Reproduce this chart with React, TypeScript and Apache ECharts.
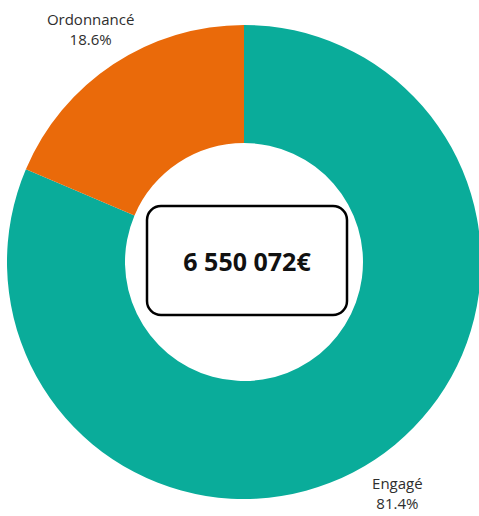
import React, { useEffect, useRef } from "react";
import * as echarts from "echarts";

const categories = ["Engagé", "Ordonnancé"];
const percentages = [81.4, 18.6];
const colors = ["#0AAC9A", "#EA6A0A"];
const totalLabel = "6 550 072€";

export default function App() {
  const ref = useRef<HTMLDivElement>(null);
  useEffect(() => {
    document.body.style.margin = "0";
    const chart = echarts.init(ref.current!, null, { renderer: "svg" });
    chart.setOption({
      animation: false,
      backgroundColor: "#ffffff",
      series: [
        {
          type: "pie",
          center: [244, 262],
          radius: [119, 237],
          startAngle: 90,
          clockwise: true,
          data: categories.map((name, i) => ({
            name,
            value: percentages[i],
            itemStyle: { color: colors[i] },
          })),
          label: {
            show: true,
            position: "outside",
            overflow: "none",
            formatter: (p: any) => `${p.name}\n${p.value.toFixed(1)}%`,
            fontFamily: "Open Sans",
            fontSize: 15,
            lineHeight: 20,
            color: "#2e2e2e",
          },
          labelLine: {
            show: true,
            length: 41,
            length2: 0,
            lineStyle: { color: "transparent", width: 0 },
          },
          labelLayout: (params: any) => {
            const pts = params.labelLinePoints;
            if (!pts) return {};
            const p = pts[1];
            return { x: p[0], y: p[1] - 1, align: "center", verticalAlign: "middle" };
          },
          emphasis: { disabled: true },
        },
      ],
      graphic: [
        {
          type: "group",
          x: 147,
          y: 206,
          children: [
            {
              type: "rect",
              shape: { x: 0, y: 0, width: 200, height: 109, r: 14 },
              style: { fill: "#ffffff", stroke: "#000000", lineWidth: 2.5 },
            },
            {
              type: "text",
              x: 100,
              y: 55,
              style: {
                text: totalLabel,
                fontFamily: "Open Sans",
                fontWeight: "bold",
                fontSize: 25,
                fill: "#111111",
                align: "center",
                verticalAlign: "middle",
              },
            },
          ],
        },
      ],
    });
    return () => chart.dispose();
  }, []);
  return <div ref={ref} style={{ width: 479, height: 516 }} />;
}
